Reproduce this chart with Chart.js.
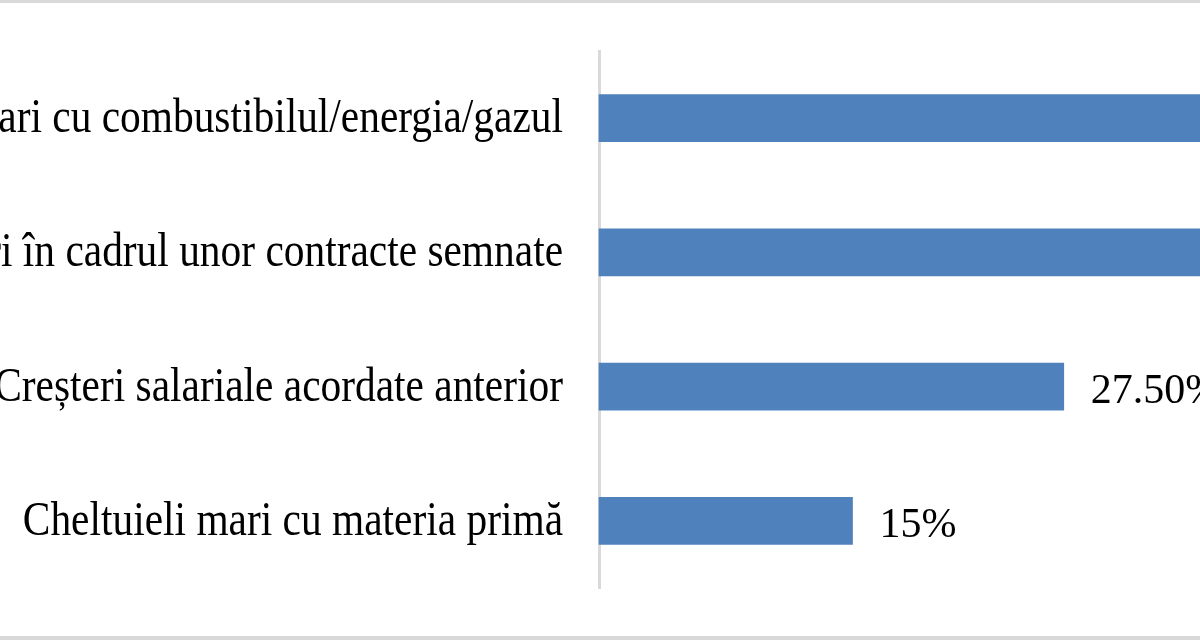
<!DOCTYPE html>
<html>
<head>
<meta charset="utf-8">
<script src="https://cdn.jsdelivr.net/npm/chart.js@4/dist/chart.umd.min.js"></script>
<style>
html,body{margin:0;padding:0;background:#fff;}
#wrap{width:1200px;height:640px;position:relative;}
</style>
</head>
<body>
<div id="wrap"><canvas id="c" width="1200" height="640"></canvas></div>
<script>
const categories = [
  "Cheltuieli mari cu combustibilul/energia/gazul",
  "Ajustări de prețuri în cadrul unor contracte semnate",
  "Creșteri salariale acordate anterior",
  "Cheltuieli mari cu materia primă"
];
const values = [45, 40, 27.5, 15];
const valueLabels = ["45%", "40%", "27.50%", "15%"];
const xMax = 35.56;

const FONT = '"Liberation Serif", "Times New Roman", serif';

const frame = {
  id: 'frame',
  beforeDraw(chart) {
    const ctx = chart.ctx;
    ctx.save();
    ctx.fillStyle = '#fff';
    ctx.fillRect(0, 0, chart.width, chart.height);
    ctx.fillStyle = '#d9d9d9';
    ctx.fillRect(0, 0, chart.width, 3);
    ctx.fillRect(0, chart.height - 4, chart.width, 4);
    ctx.restore();
  }
};

const categoryLabelPlugin = {
  id: 'categoryLabels',
  afterDraw(chart) {
    const ctx = chart.ctx;
    const y = chart.scales.y;
    const right = chart.chartArea.left - 36;
    ctx.save();
    ctx.font = '41.4px ' + FONT;
    ctx.fillStyle = '#000';
    ctx.textAlign = 'right';
    ctx.textBaseline = 'alphabetic';
    y.ticks.forEach((t, i) => {
      const py = y.getPixelForTick(i);
      ctx.save();
      ctx.translate(right, py + 14);
      ctx.scale(1, 1.15);
      ctx.fillText(y.getLabelForValue(t.value), 0, 0);
      ctx.restore();
    });
    ctx.restore();
  }
};

const valueLabelPlugin = {
  id: 'valueLabels',
  afterDatasetsDraw(chart) {
    const ctx = chart.ctx;
    const meta = chart.getDatasetMeta(0);
    ctx.save();
    ctx.font = '42px ' + FONT;
    ctx.fillStyle = '#000';
    ctx.textAlign = 'left';
    ctx.textBaseline = 'alphabetic';
    meta.data.forEach((bar, i) => {
      ctx.fillText(valueLabels[i], bar.x + 27, bar.y + 16);
    });
    ctx.restore();
  }
};

new Chart(document.getElementById('c'), {
  type: 'bar',
  data: {
    labels: categories,
    datasets: [{
      data: values,
      backgroundColor: '#4F81BD',
      borderWidth: 0,
      barThickness: 47,
      clip: false
    }]
  },
  options: {
    indexAxis: 'y',
    responsive: false,
    animation: false,
    layout: { padding: { top: 51, bottom: 52, left: 0, right: 0 } },
    plugins: { legend: { display: false }, tooltip: { enabled: false } },
    scales: {
      x: {
        display: false,
        min: 0,
        max: xMax
      },
      y: {
        grid: { display: false, drawTicks: false },
        border: { display: true, color: '#d9d9d9', width: 3 },
        ticks: { display: false },
        afterFit(scale) {
          scale.width = 599;
          scale.paddingTop = 0;
          scale.paddingBottom = 0;
        }
      }
    }
  },
  plugins: [frame, categoryLabelPlugin, valueLabelPlugin]
});
</script>
</body>
</html>
